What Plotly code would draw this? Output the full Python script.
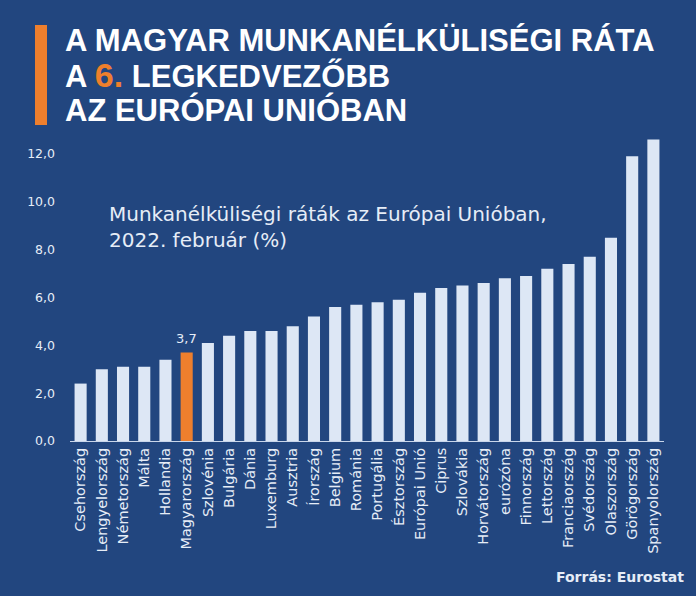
import plotly.graph_objects as go

countries = ["Csehország", "Lengyelország", "Németország", "Málta", "Hollandia",
             "Magyarország", "Szlovénia", "Bulgária", "Dánia", "Luxemburg",
             "Ausztria", "Írország", "Belgium", "Románia", "Portugália",
             "Észtország", "Európai Unió", "Ciprus", "Szlovákia", "Horvátország",
             "eurózóna", "Finnország", "Lettország", "Franciaország", "Svédország",
             "Olaszország", "Görögország", "Spanyolország"]
rates = [2.4, 3.0, 3.1, 3.1, 3.4, 3.7, 4.1, 4.4, 4.6, 4.6,
         4.8, 5.2, 5.6, 5.7, 5.8, 5.9, 6.2, 6.4, 6.5, 6.6,
         6.8, 6.9, 7.2, 7.4, 7.7, 8.5, 11.9, 12.6]
highlight = "Magyarország"
y_ticks = [0, 2, 4, 6, 8, 10, 12]

BG = "#22467F"
BAR = "#DDE7F5"
ORANGE = "#EE7F2D"
TXT = "#E6EDF7"
SANS = "DejaVu Sans, sans-serif"

W, H = 696, 596
L, R, T, B = 70, 32, 130, 155
pw, ph = W - L - R, H - T - B

def px(x):
    return (x - L) / pw

def py(y):
    return (H - B - y) / ph

colors = [ORANGE if c == highlight else BAR for c in countries]

fig = go.Figure(go.Bar(
    x=countries, y=rates, marker=dict(color=colors, line=dict(width=0)),
))

hv = rates[countries.index(highlight)]
fig.add_annotation(x=highlight, y=hv, text=f"{hv:.1f}".replace(".", ","),
                   showarrow=False, yanchor="bottom", yshift=4,
                   font=dict(family=SANS, size=13, color=TXT))

fig.update_layout(
    width=W, height=H,
    margin=dict(l=L, r=R, t=T, b=B),
    paper_bgcolor=BG, plot_bgcolor=BG,
    separators=", ",
    bargap=0.43,
    showlegend=False,
    xaxis=dict(
        tickangle=-90, showgrid=False, showline=True, linecolor="#C9D6EA", linewidth=1,
        ticks="", tickfont=dict(family=SANS, size=14.5, color=TXT),
        range=[-0.5, len(countries) - 0.5], fixedrange=True,
    ),
    yaxis=dict(
        range=[0, 13], tickvals=y_ticks, tickformat=".1f", showgrid=False,
        zeroline=False, showline=False, ticks="",
        tickfont=dict(family=SANS, size=12.5, color=TXT),
        ticklabelstandoff=14,
    ),
    shapes=[dict(type="rect", xref="paper", yref="paper",
                 x0=px(35), x1=px(47), y0=py(125), y1=py(25),
                 fillcolor=ORANGE, line=dict(width=0))],
)

title_font = dict(family="Liberation Sans, Arial, sans-serif", size=31, color="white")
title_lines = [
    ("A MAGYAR MUNKANÉLKÜLISÉGI RÁTA", 40),
    (f"A <span style='color:{ORANGE};font-size:34px'>6.</span> LEGKEDVEZŐBB", 75),
    ("AZ EURÓPAI UNIÓBAN", 110),
]
for txt, yc in title_lines:
    fig.add_annotation(text=f"<b>{txt}</b>", xref="paper", yref="paper",
                       x=px(64), y=py(yc), xanchor="left", yanchor="middle",
                       showarrow=False, font=title_font, borderpad=0)

fig.add_annotation(text="Munkanélküliségi ráták az Európai Unióban,<br>2022. február (%)",
                   xref="paper", yref="paper", x=px(107), y=py(200),
                   xanchor="left", yanchor="top", align="left", showarrow=False,
                   font=dict(family=SANS, size=20, color=TXT))

fig.add_annotation(text="<b>Forrás: Eurostat</b>", xref="paper", yref="paper",
                   x=px(686), y=py(577), xanchor="right", yanchor="middle",
                   showarrow=False,
                   font=dict(family=SANS, size=14, color=TXT))

fig.write_html("out.html", config={"displayModeBar": False},
               post_script="document.body.style.margin='0';document.body.style.overflow='hidden';")
